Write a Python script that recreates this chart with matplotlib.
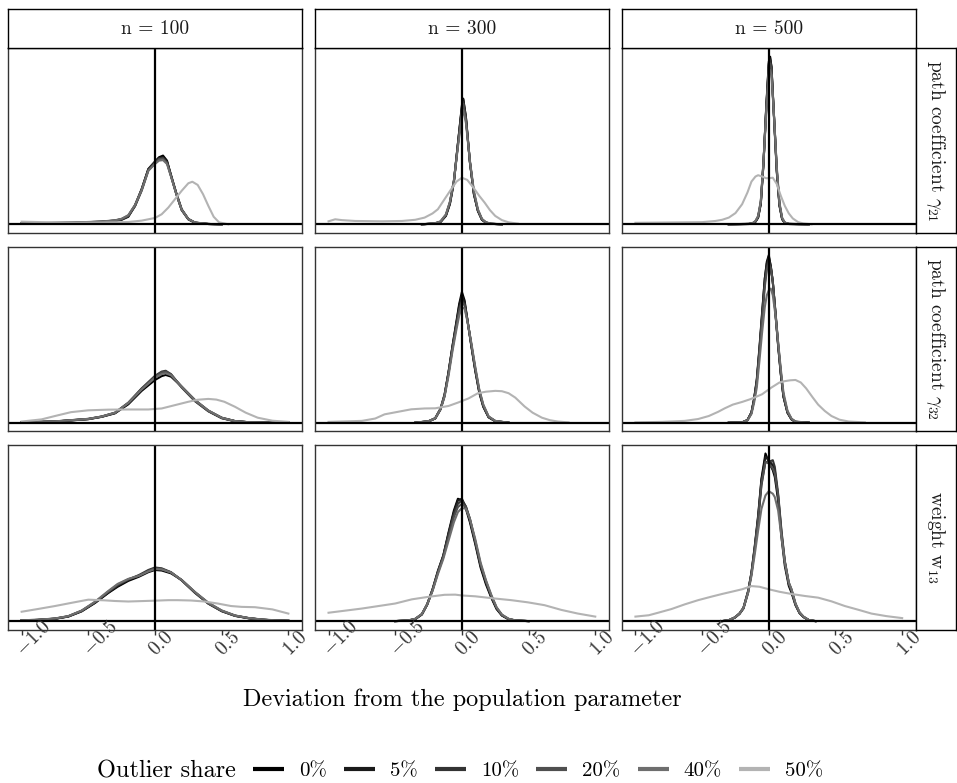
import numpy as np
import matplotlib
matplotlib.use("Agg")
import matplotlib.pyplot as plt
from matplotlib.lines import Line2D
from matplotlib.transforms import ScaledTranslation

plt.rcParams['font.family'] = 'cmr10'
plt.rcParams['mathtext.fontset'] = 'cm'
plt.rcParams['axes.unicode_minus'] = False

shares = ['0%', '5%', '10%', '20%', '40%', '50%']
colours = ['#000000', '#1a1a1a', '#333333', '#4f4f4f', '#6e6e6e', '#b3b3b3']
n_labels = ['n = 100', 'n = 300', 'n = 500']
param_labels = [r'path coefficient $\gamma_{21}$', r'path coefficient $\gamma_{32}$',
                r'weight $\mathrm{w}_{13}$']
tick_vals = [-1.0, -0.5, 0.0, 0.5, 1.0]
tick_labels = ['$-1.0$', '$-0.5$', '$0.0$', '$0.5$', '$1.0$']

# density heights, relative to the tallest curve of each row
# ---- path coefficient gamma21 ----
x_g21_100 = [-1.0, -0.6, -0.4, -0.3, -0.25, -0.2, -0.15, -0.1, -0.05, 0.0, 0.03, 0.06, 0.09, 0.12, 0.16, 0.2, 0.25, 0.3, 0.4, 0.5]
g21_100 = [
    [0.004, 0.008, 0.014, 0.020, 0.027, 0.045, 0.110, 0.210, 0.330, 0.375, 0.400, 0.410, 0.380, 0.290, 0.180, 0.085, 0.030, 0.010, 0.002, 0.0],
    [0.005, 0.009, 0.015, 0.022, 0.030, 0.050, 0.110, 0.205, 0.325, 0.370, 0.395, 0.400, 0.375, 0.295, 0.185, 0.090, 0.032, 0.010, 0.002, 0.0],
    [0.005, 0.010, 0.016, 0.023, 0.032, 0.052, 0.115, 0.210, 0.330, 0.372, 0.392, 0.395, 0.370, 0.290, 0.185, 0.088, 0.030, 0.009, 0.002, 0.0],
    [0.006, 0.010, 0.016, 0.022, 0.030, 0.050, 0.108, 0.200, 0.320, 0.365, 0.388, 0.392, 0.365, 0.288, 0.180, 0.085, 0.030, 0.010, 0.002, 0.0],
    [0.006, 0.011, 0.017, 0.024, 0.033, 0.055, 0.115, 0.205, 0.320, 0.360, 0.380, 0.383, 0.360, 0.285, 0.180, 0.088, 0.032, 0.011, 0.002, 0.0],
]
x50_g21_100 = [-1.0, -0.8, -0.6, -0.4, -0.2, -0.1, 0.0, 0.05, 0.1, 0.15, 0.2, 0.25, 0.28, 0.32, 0.36, 0.4, 0.44, 0.48, 0.55]
y50_g21_100 = [0.016, 0.012, 0.010, 0.010, 0.014, 0.022, 0.038, 0.060, 0.100, 0.150, 0.200, 0.245, 0.254, 0.235, 0.180, 0.110, 0.045, 0.012, 0.0]

x_g21_300 = [-0.3, -0.2, -0.16, -0.12, -0.09, -0.06, -0.03, 0.0, 0.01, 0.03, 0.06, 0.09, 0.12, 0.15, 0.18, 0.22, 0.3]
g21_300 = [
    [0.0, 0.005, 0.014, 0.050, 0.120, 0.250, 0.480, 0.710, 0.750, 0.640, 0.370, 0.180, 0.080, 0.027, 0.010, 0.003, 0.0],
    [0.0, 0.005, 0.015, 0.052, 0.125, 0.255, 0.480, 0.700, 0.745, 0.640, 0.375, 0.180, 0.080, 0.028, 0.010, 0.003, 0.0],
    [0.0, 0.006, 0.016, 0.055, 0.130, 0.260, 0.480, 0.690, 0.730, 0.630, 0.370, 0.185, 0.082, 0.030, 0.011, 0.003, 0.0],
    [0.0, 0.006, 0.016, 0.055, 0.130, 0.260, 0.470, 0.680, 0.720, 0.625, 0.375, 0.190, 0.085, 0.030, 0.011, 0.003, 0.0],
    [0.0, 0.007, 0.018, 0.060, 0.135, 0.260, 0.460, 0.645, 0.680, 0.605, 0.380, 0.200, 0.090, 0.033, 0.012, 0.004, 0.0],
]
x50_g21_300 = [-1.0, -0.95, -0.9, -0.8, -0.6, -0.45, -0.35, -0.28, -0.22, -0.18, -0.13, -0.08, -0.04, 0.0, 0.04, 0.09, 0.13, 0.17, 0.21, 0.25, 0.3, 0.35, 0.42]
y50_g21_300 = [0.018, 0.030, 0.025, 0.020, 0.018, 0.020, 0.027, 0.040, 0.065, 0.090, 0.150, 0.210, 0.255, 0.278, 0.265, 0.215, 0.170, 0.130, 0.085, 0.050, 0.025, 0.012, 0.004]

x_g21_500 = [-0.3, -0.15, -0.12, -0.1, -0.08, -0.06, -0.04, -0.02, 0.0, 0.01, 0.02, 0.04, 0.06, 0.08, 0.1, 0.12, 0.15, 0.3]
g21_500 = [
    [0.0, 0.002, 0.006, 0.015, 0.040, 0.120, 0.360, 0.690, 0.970, 1.000, 0.940, 0.620, 0.310, 0.110, 0.030, 0.008, 0.002, 0.0],
    [0.0, 0.002, 0.006, 0.016, 0.042, 0.125, 0.360, 0.680, 0.960, 0.990, 0.940, 0.630, 0.320, 0.115, 0.032, 0.009, 0.002, 0.0],
    [0.0, 0.002, 0.007, 0.017, 0.045, 0.130, 0.370, 0.680, 0.950, 0.980, 0.930, 0.630, 0.320, 0.120, 0.033, 0.009, 0.002, 0.0],
    [0.0, 0.003, 0.007, 0.018, 0.047, 0.135, 0.370, 0.670, 0.930, 0.960, 0.920, 0.630, 0.330, 0.120, 0.035, 0.010, 0.003, 0.0],
    [0.0, 0.003, 0.008, 0.020, 0.050, 0.140, 0.370, 0.650, 0.890, 0.920, 0.890, 0.630, 0.340, 0.130, 0.040, 0.011, 0.003, 0.0],
]
x50_g21_500 = [-1.0, -0.75, -0.5, -0.4, -0.35, -0.3, -0.25, -0.2, -0.16, -0.13, -0.1, -0.08, -0.05, -0.02, 0.0, 0.03, 0.06, 0.09, 0.12, 0.15, 0.18, 0.22, 0.26, 0.32]
y50_g21_500 = [0.009, 0.011, 0.013, 0.020, 0.027, 0.040, 0.067, 0.120, 0.190, 0.255, 0.285, 0.293, 0.285, 0.275, 0.275, 0.278, 0.240, 0.170, 0.110, 0.065, 0.035, 0.013, 0.005, 0.0]

# ---- path coefficient gamma32 ----
x_g32_100 = [-1.0, -0.75, -0.5, -0.4, -0.3, -0.2, -0.1, 0.0, 0.05, 0.08, 0.12, 0.2, 0.3, 0.4, 0.5, 0.6, 0.7, 0.85, 1.0]
g32_100 = [
    [0.002, 0.007, 0.021, 0.035, 0.056, 0.110, 0.190, 0.255, 0.278, 0.285, 0.275, 0.215, 0.135, 0.072, 0.030, 0.010, 0.003, 0.001, 0.0],
    [0.002, 0.007, 0.022, 0.036, 0.058, 0.115, 0.200, 0.270, 0.295, 0.300, 0.285, 0.215, 0.132, 0.070, 0.028, 0.009, 0.003, 0.001, 0.0],
    [0.002, 0.008, 0.023, 0.037, 0.060, 0.120, 0.205, 0.280, 0.305, 0.310, 0.290, 0.210, 0.128, 0.068, 0.027, 0.009, 0.003, 0.001, 0.0],
    [0.002, 0.007, 0.022, 0.036, 0.058, 0.117, 0.200, 0.275, 0.300, 0.305, 0.288, 0.212, 0.130, 0.070, 0.028, 0.009, 0.003, 0.001, 0.0],
    [0.003, 0.008, 0.023, 0.037, 0.060, 0.118, 0.198, 0.268, 0.290, 0.295, 0.283, 0.215, 0.135, 0.073, 0.030, 0.010, 0.003, 0.001, 0.0],
]
x50_g32_100 = [-1.0, -0.85, -0.75, -0.63, -0.5, -0.35, -0.2, -0.05, 0.05, 0.15, 0.25, 0.32, 0.4, 0.46, 0.52, 0.6, 0.68, 0.77, 0.88, 1.0]
y50_g32_100 = [0.007, 0.020, 0.040, 0.063, 0.074, 0.078, 0.079, 0.079, 0.085, 0.105, 0.125, 0.137, 0.142, 0.138, 0.125, 0.095, 0.060, 0.030, 0.012, 0.005]

x_g32_300 = [-0.35, -0.25, -0.2, -0.16, -0.13, -0.1, -0.07, -0.04, -0.02, 0.0, 0.02, 0.04, 0.07, 0.1, 0.13, 0.16, 0.2, 0.25, 0.35]
g32_300 = [
    [0.0, 0.008, 0.025, 0.080, 0.160, 0.300, 0.460, 0.610, 0.710, 0.780, 0.730, 0.620, 0.460, 0.310, 0.180, 0.095, 0.032, 0.009, 0.0],
    [0.0, 0.008, 0.026, 0.082, 0.165, 0.305, 0.460, 0.600, 0.700, 0.760, 0.720, 0.620, 0.465, 0.315, 0.185, 0.100, 0.034, 0.009, 0.0],
    [0.0, 0.009, 0.027, 0.085, 0.170, 0.300, 0.450, 0.590, 0.680, 0.730, 0.710, 0.620, 0.470, 0.320, 0.190, 0.100, 0.035, 0.010, 0.0],
    [0.0, 0.009, 0.027, 0.083, 0.165, 0.295, 0.445, 0.580, 0.670, 0.720, 0.700, 0.615, 0.470, 0.325, 0.195, 0.105, 0.036, 0.010, 0.0],
    [0.0, 0.009, 0.026, 0.080, 0.155, 0.280, 0.430, 0.560, 0.640, 0.690, 0.680, 0.610, 0.480, 0.335, 0.200, 0.110, 0.038, 0.011, 0.0],
]
x50_g32_300 = [-1.0, -0.75, -0.65, -0.58, -0.48, -0.38, -0.28, -0.2, -0.1, -0.03, 0.05, 0.12, 0.18, 0.25, 0.3, 0.35, 0.4, 0.47, 0.53, 0.6, 0.66, 0.72, 0.8]
y50_g32_300 = [0.005, 0.011, 0.025, 0.050, 0.065, 0.080, 0.085, 0.086, 0.100, 0.120, 0.145, 0.176, 0.185, 0.190, 0.188, 0.176, 0.150, 0.097, 0.060, 0.030, 0.015, 0.007, 0.002]

x_g32_500 = [-0.3, -0.2, -0.16, -0.13, -0.11, -0.09, -0.07, -0.05, -0.03, -0.015, 0.0, 0.015, 0.03, 0.05, 0.07, 0.09, 0.11, 0.14, 0.17, 0.2, 0.3]
g32_500 = [
    [0.0, 0.002, 0.015, 0.060, 0.140, 0.250, 0.440, 0.650, 0.860, 0.960, 1.000, 0.930, 0.840, 0.650, 0.460, 0.290, 0.155, 0.060, 0.020, 0.005, 0.0],
    [0.0, 0.002, 0.016, 0.062, 0.145, 0.260, 0.450, 0.660, 0.860, 0.950, 0.990, 0.935, 0.840, 0.650, 0.460, 0.290, 0.155, 0.060, 0.020, 0.005, 0.0],
    [0.0, 0.002, 0.016, 0.062, 0.140, 0.250, 0.430, 0.630, 0.830, 0.930, 0.970, 0.930, 0.840, 0.660, 0.470, 0.300, 0.160, 0.062, 0.021, 0.005, 0.0],
    [0.0, 0.002, 0.015, 0.058, 0.135, 0.240, 0.420, 0.620, 0.810, 0.910, 0.950, 0.920, 0.840, 0.660, 0.475, 0.305, 0.165, 0.065, 0.022, 0.006, 0.0],
    [0.0, 0.002, 0.014, 0.052, 0.120, 0.210, 0.370, 0.540, 0.690, 0.760, 0.790, 0.800, 0.760, 0.640, 0.480, 0.320, 0.180, 0.072, 0.025, 0.007, 0.0],
]
x50_g32_500 = [-1.0, -0.8, -0.63, -0.53, -0.45, -0.38, -0.33, -0.27, -0.2, -0.14, -0.1, -0.05, 0.02, 0.08, 0.12, 0.16, 0.2, 0.24, 0.28, 0.33, 0.37, 0.42, 0.47, 0.53, 0.6, 0.72]
y50_g32_500 = [0.002, 0.005, 0.011, 0.022, 0.040, 0.065, 0.086, 0.108, 0.124, 0.140, 0.153, 0.170, 0.210, 0.240, 0.248, 0.253, 0.255, 0.240, 0.205, 0.150, 0.108, 0.070, 0.040, 0.018, 0.007, 0.002]

# ---- weight w13 ----
x_w13_100 = [-1.0, -0.88, -0.75, -0.65, -0.55, -0.45, -0.35, -0.28, -0.2, -0.12, -0.05, 0.0, 0.05, 0.12, 0.2, 0.3, 0.4, 0.5, 0.6, 0.7, 0.8, 0.9, 1.0]
w13_100 = [
    [0.004, 0.007, 0.014, 0.027, 0.058, 0.108, 0.168, 0.205, 0.240, 0.265, 0.292, 0.305, 0.302, 0.285, 0.245, 0.172, 0.108, 0.062, 0.033, 0.018, 0.009, 0.004, 0.002],
    [0.004, 0.007, 0.014, 0.028, 0.060, 0.110, 0.170, 0.210, 0.245, 0.270, 0.300, 0.315, 0.310, 0.290, 0.245, 0.170, 0.105, 0.060, 0.032, 0.018, 0.009, 0.004, 0.002],
    [0.004, 0.007, 0.015, 0.029, 0.062, 0.113, 0.174, 0.215, 0.248, 0.275, 0.305, 0.320, 0.315, 0.292, 0.243, 0.168, 0.104, 0.059, 0.031, 0.017, 0.008, 0.004, 0.002],
    [0.005, 0.008, 0.015, 0.029, 0.061, 0.112, 0.176, 0.218, 0.250, 0.272, 0.300, 0.315, 0.312, 0.290, 0.244, 0.170, 0.106, 0.061, 0.032, 0.018, 0.009, 0.004, 0.002],
    [0.005, 0.008, 0.016, 0.030, 0.063, 0.116, 0.180, 0.222, 0.252, 0.270, 0.296, 0.310, 0.308, 0.290, 0.246, 0.174, 0.110, 0.064, 0.034, 0.019, 0.010, 0.005, 0.002],
]
x50_w13_100 = [-1.0, -0.88, -0.75, -0.62, -0.5, -0.38, -0.3, -0.2, 0.0, 0.1, 0.17, 0.27, 0.37, 0.47, 0.57, 0.65, 0.75, 0.88, 1.0]
y50_w13_100 = [0.056, 0.072, 0.090, 0.110, 0.128, 0.124, 0.120, 0.117, 0.122, 0.125, 0.125, 0.123, 0.117, 0.105, 0.090, 0.085, 0.083, 0.070, 0.045]

x_w13_300 = [-0.5, -0.4, -0.35, -0.3, -0.26, -0.22, -0.18, -0.14, -0.1, -0.06, -0.03, 0.0, 0.03, 0.06, 0.1, 0.14, 0.18, 0.22, 0.26, 0.3, 0.35, 0.4, 0.5]
w13_300 = [
    [0.0, 0.004, 0.012, 0.040, 0.100, 0.190, 0.300, 0.390, 0.530, 0.660, 0.730, 0.720, 0.670, 0.590, 0.460, 0.320, 0.220, 0.140, 0.072, 0.033, 0.011, 0.004, 0.0],
    [0.0, 0.004, 0.012, 0.040, 0.098, 0.185, 0.290, 0.385, 0.520, 0.650, 0.720, 0.730, 0.680, 0.600, 0.470, 0.330, 0.230, 0.145, 0.075, 0.035, 0.012, 0.004, 0.0],
    [0.0, 0.004, 0.013, 0.042, 0.102, 0.190, 0.295, 0.390, 0.520, 0.640, 0.700, 0.720, 0.685, 0.610, 0.475, 0.335, 0.235, 0.150, 0.078, 0.036, 0.012, 0.004, 0.0],
    [0.0, 0.004, 0.013, 0.041, 0.100, 0.185, 0.290, 0.380, 0.500, 0.620, 0.680, 0.700, 0.680, 0.610, 0.480, 0.340, 0.240, 0.152, 0.080, 0.037, 0.013, 0.004, 0.0],
    [0.0, 0.005, 0.014, 0.043, 0.100, 0.180, 0.280, 0.370, 0.480, 0.590, 0.650, 0.675, 0.670, 0.610, 0.490, 0.350, 0.245, 0.158, 0.083, 0.039, 0.014, 0.005, 0.0],
]
x50_w13_300 = [-1.0, -0.75, -0.5, -0.375, -0.25, -0.13, -0.05, 0.0, 0.1, 0.245, 0.37, 0.495, 0.62, 0.745, 0.87, 1.0]
y50_w13_300 = [0.050, 0.075, 0.105, 0.130, 0.145, 0.157, 0.158, 0.153, 0.148, 0.135, 0.125, 0.112, 0.095, 0.067, 0.045, 0.027]

x_w13_500 = [-0.35, -0.3, -0.255, -0.22, -0.19, -0.155, -0.13, -0.105, -0.08, -0.055, -0.025, 0.0, 0.03, 0.045, 0.07, 0.095, 0.12, 0.15, 0.17, 0.2, 0.23, 0.26, 0.3, 0.35]
w13_500 = [
    [0.0, 0.005, 0.022, 0.045, 0.079, 0.180, 0.290, 0.450, 0.630, 0.850, 1.000, 0.950, 0.900, 0.860, 0.720, 0.500, 0.330, 0.210, 0.170, 0.095, 0.048, 0.024, 0.006, 0.0],
    [0.0, 0.005, 0.021, 0.044, 0.077, 0.175, 0.285, 0.440, 0.620, 0.840, 0.980, 0.960, 0.930, 0.900, 0.740, 0.520, 0.350, 0.220, 0.180, 0.100, 0.050, 0.025, 0.006, 0.0],
    [0.0, 0.005, 0.020, 0.042, 0.075, 0.170, 0.280, 0.430, 0.600, 0.810, 0.950, 0.950, 0.960, 0.920, 0.760, 0.540, 0.360, 0.230, 0.190, 0.105, 0.052, 0.026, 0.006, 0.0],
    [0.0, 0.006, 0.022, 0.046, 0.080, 0.178, 0.288, 0.440, 0.610, 0.820, 0.950, 0.940, 0.910, 0.880, 0.750, 0.530, 0.355, 0.225, 0.185, 0.100, 0.050, 0.025, 0.006, 0.0],
    [0.0, 0.006, 0.022, 0.045, 0.078, 0.170, 0.270, 0.400, 0.540, 0.670, 0.750, 0.775, 0.760, 0.740, 0.660, 0.500, 0.350, 0.230, 0.190, 0.105, 0.054, 0.027, 0.007, 0.0],
]
x50_w13_500 = [-1.0, -0.9, -0.83, -0.73, -0.63, -0.53, -0.43, -0.35, -0.28, -0.2, -0.13, -0.07, 0.0, 0.08, 0.17, 0.27, 0.37, 0.47, 0.57, 0.67, 0.77, 0.88, 1.0]
y50_w13_500 = [0.027, 0.035, 0.050, 0.072, 0.100, 0.125, 0.146, 0.162, 0.175, 0.190, 0.209, 0.205, 0.190, 0.175, 0.162, 0.150, 0.140, 0.118, 0.090, 0.068, 0.045, 0.030, 0.018]

grid = [
    [(x_g21_100, g21_100, x50_g21_100, y50_g21_100),
     (x_g21_300, g21_300, x50_g21_300, y50_g21_300),
     (x_g21_500, g21_500, x50_g21_500, y50_g21_500)],
    [(x_g32_100, g32_100, x50_g32_100, y50_g32_100),
     (x_g32_300, g32_300, x50_g32_300, y50_g32_300),
     (x_g32_500, g32_500, x50_g32_500, y50_g32_500)],
    [(x_w13_100, w13_100, x50_w13_100, y50_w13_100),
     (x_w13_300, w13_300, x50_w13_300, y50_w13_300),
     (x_w13_500, w13_500, x50_w13_500, y50_w13_500)],
]

W, H = 957, 783
fig = plt.figure(figsize=(W / 100, H / 100), dpi=100)


def rect(left, top, w, h):
    return [left / W, 1 - (top + h) / H, w / W, h / H]


col_left = [8.3, 315.2, 622.1]
row_top = [48.3, 246.7, 445.1]
PW, PH = 293.4, 184.4
strip_top, strip_h = 8.9, 39.4
rstrip_w = 40.5

for r in range(3):
    for c in range(3):
        xs, dark, x50, y50 = grid[r][c]
        ax = fig.add_axes(rect(col_left[c], row_top[r], PW, PH))
        for k in range(5):
            ax.plot(xs, dark[k], color=colours[k], lw=1.5, solid_joinstyle='round')
        ax.plot(x50, y50, color=colours[5], lw=1.5, solid_joinstyle='round')
        ax.axvline(0, color='black', lw=1.6)
        ax.axhline(0, color='black', lw=1.6)
        ax.set_xlim(-1.1, 1.1)
        ax.set_ylim(-0.05, 1.05)
        ax.set_yticks([])
        for sp in ax.spines.values():
            sp.set_color('#333333')
            sp.set_linewidth(1.0)
        if r == 2:
            ax.set_xticks(tick_vals)
            ax.tick_params(axis='x', length=3.5, width=1.0, color='#333333',
                           labelbottom=False)
            off = ScaledTranslation(0.01, -0.27, fig.dpi_scale_trans)
            for t, lab in zip(tick_vals, tick_labels):
                ax.text(t, 0, lab, transform=ax.get_xaxis_transform() + off,
                        rotation=45, rotation_mode='anchor', ha='left',
                        va='baseline', fontsize=14, color='#333333')
        else:
            ax.set_xticks([])

# column strips
for c in range(3):
    sax = fig.add_axes(rect(col_left[c], strip_top, PW, strip_h))
    sax.set_xticks([])
    sax.set_yticks([])
    for sp in sax.spines.values():
        sp.set_color('black')
        sp.set_linewidth(1.0)
    sax.text(0.5, 0.5, n_labels[c], transform=sax.transAxes, ha='center',
             va='center', fontsize=14, color='#1a1a1a')

# row strips
for r in range(3):
    sax = fig.add_axes(rect(col_left[2] + PW, row_top[r], rstrip_w, PH))
    sax.set_xticks([])
    sax.set_yticks([])
    for sp in sax.spines.values():
        sp.set_color('black')
        sp.set_linewidth(1.0)
    sax.text(0.5, 0.5, param_labels[r], transform=sax.transAxes, ha='center',
             va='center', rotation=270, fontsize=14, color='#1a1a1a')

fig.text(462 / W, 1 - 700 / H, 'Deviation from the population parameter',
         ha='center', va='center', fontsize=17.5)

fig.text(97 / W, 1 - 771 / H, 'Outlier share', ha='left', va='center', fontsize=17.5)
handles = [Line2D([], [], color=col, lw=3, solid_capstyle='butt') for col in colours]
fig.legend(handles, shares, ncol=6, loc='center left',
           bbox_to_anchor=(253 / W, 1 - 771 / H), frameon=False, fontsize=15,
           handlelength=1.49, handletextpad=0.72, columnspacing=0.82,
           borderpad=0, borderaxespad=0)

fig.savefig('out.png', dpi=100)
